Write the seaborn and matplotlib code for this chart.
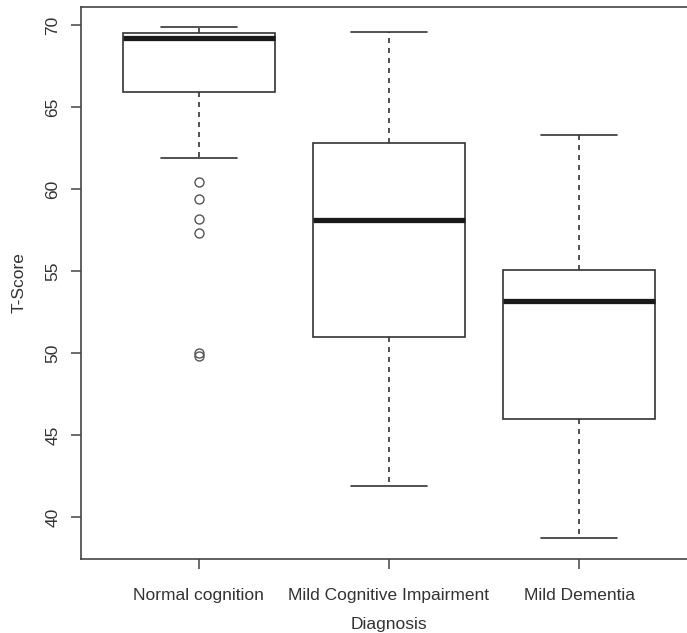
import numpy as np
import pandas as pd
import matplotlib
matplotlib.use("Agg")
import matplotlib.pyplot as plt
import seaborn as sns

# T-scores per diagnosis group
categorias = ["Normal cognition", "Mild Cognitive Impairment", "Mild Dementia"]

normal = [49.8, 50.0, 57.3, 58.2, 59.4, 60.45, 61.9, 63.8,
          65.9, 66.5, 67.2, 67.8, 68.3, 68.7, 68.9, 69.1,
          69.2, 69.25, 69.3, 69.3, 69.35, 69.4, 69.4, 69.45,
          69.5, 69.55, 69.6, 69.6, 69.65, 69.7, 69.75, 69.8, 69.86]
mci = [41.9, 46.5, 51.0, 55.0, 58.1, 60.5, 62.8, 66.0, 69.6]
demencia = [38.7, 43.0, 46.0, 50.5, 53.2, 54.2, 55.05, 59.0, 63.3]

df = pd.DataFrame({
    "Diagnosis": [categorias[0]] * len(normal) + [categorias[1]] * len(mci) + [categorias[2]] * len(demencia),
    "T-Score": normal + mci + demencia,
})

sns.set_style("ticks")
plt.rcParams["font.family"] = ["Liberation Sans", "DejaVu Sans"]

cinza = "#333333"
fig = plt.figure(figsize=(6.87, 6.33), dpi=100)
# the right frame edge is cut off in the reference, so the axes run past the figure
ax = fig.add_axes([81 / 687, 74 / 633, 616 / 687, 552 / 633])

sns.boxplot(data=df, x="Diagnosis", y="T-Score", order=categorias, ax=ax,
            color="white", linecolor=cinza, linewidth=1.2, width=0.8, whis=1.5,
            whiskerprops={"linestyle": (0, (3, 3)), "color": cinza},
            medianprops={"linewidth": 3.8, "color": "#1a1a1a"},
            flierprops={"marker": "o", "markersize": 6.5, "markerfacecolor": "none",
                        "markeredgecolor": "#555555", "markeredgewidth": 1.0})

ax.set_xlim(0.38 - 1, 3.62 - 1)
ax.set_ylim(37.45, 71.1)
ax.set_yticks([40, 45, 50, 55, 60, 65, 70])
ax.set_yticklabels([str(v) for v in [40, 45, 50, 55, 60, 65, 70]], rotation=90, va="center")

for lado in ["left", "bottom", "top", "right"]:
    ax.spines[lado].set_visible(True)
    ax.spines[lado].set_color("#444444")
    ax.spines[lado].set_linewidth(1.2)

ax.tick_params(axis="both", direction="out", length=7, width=1.1, color="#444444",
               labelsize=12.5, labelcolor=cinza)
ax.tick_params(axis="y", pad=8)
ax.tick_params(axis="x", pad=14)
ax.set_xlabel("Diagnosis", fontsize=12.5, color=cinza, labelpad=10)
ax.set_ylabel("T-Score", fontsize=12.5, color=cinza, labelpad=13)

fig.savefig("out.png", dpi=100)
